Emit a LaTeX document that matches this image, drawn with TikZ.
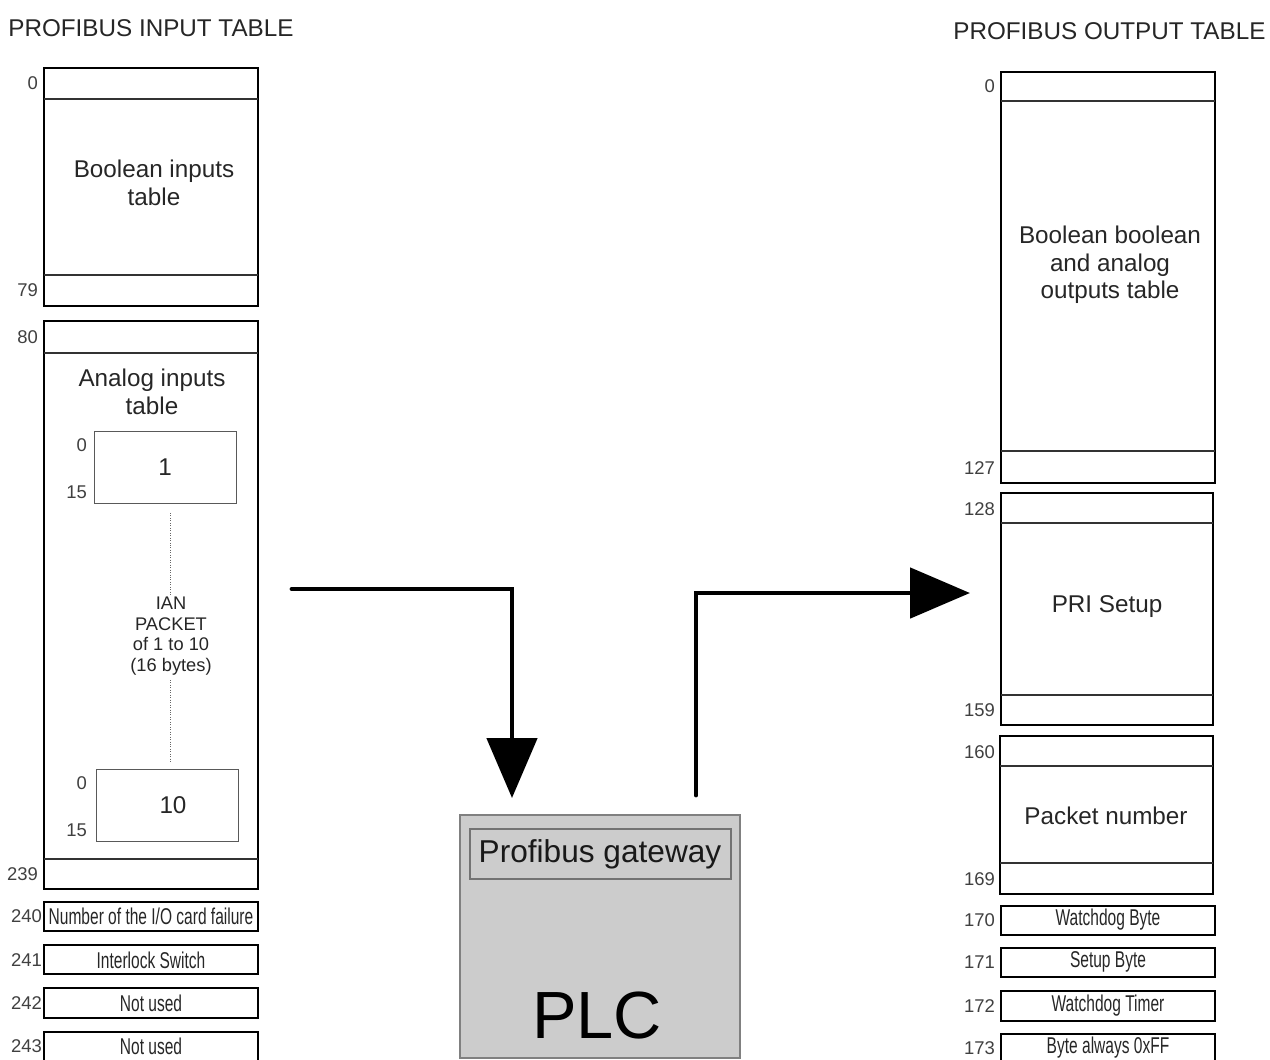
\documentclass[tikz,border=0pt]{standalone}
\usepackage{fontspec}
\setmainfont{Liberation Sans}
\newfontfamily\narrowfont[FakeStretch=0.68]{Liberation Sans}
\usetikzlibrary{arrows.meta}

\begin{document}
\begin{tikzpicture}[x=0.02cm,y=-0.02cm,
    txt/.style={font=\fontsize{13.8}{15.6}\selectfont, align=center, text=black!85},
    small/.style={font=\fontsize{10.4}{11.8}\selectfont, align=center, text=black!85},
    idx/.style={font=\fontsize{10.5}{12}\selectfont, text=black!75, anchor=east, inner sep=1pt},
    row/.style={font=\narrowfont\fontsize{13}{15}\selectfont, text=black!85, inner sep=0pt},
    frame/.style={line width=1.1pt},
    sep/.style={line width=0.6pt, black!80},
    pkt/.style={line width=0.5pt, black!65},
    flow/.style={line width=2.8pt, line cap=round, -{Triangle[width=1cm,length=1.2cm]}}]
    \useasboundingbox (0,0) rectangle (1270,1059);

    % input table
    \node[txt, anchor=west, inner sep=0pt] (intitle) at (8,28) {PROFIBUS INPUT TABLE};

    \draw[frame] (44,68) rectangle (258,306);
    \draw[sep] (44,99) -- (258,99);
    \draw[sep] (44,275) -- (258,275);
    \node[idx] (in0) at (40,83) {0};
    \node[idx] (in79) at (40,290) {79};
    \node[txt] (boolin) at (154,183) {Boolean inputs\\table};

    \draw[frame] (44,321) rectangle (258,889);
    \draw[sep] (44,353) -- (258,353);
    \draw[sep] (44,859) -- (258,859);
    \node[idx] (in80) at (40,337) {80};
    \node[idx] (in239) at (40,874) {239};
    \node[txt] (anain) at (152,392) {Analog inputs\\table};

    \draw[pkt] (94,431) rectangle (236,503);
    \node[txt] (pktone) at (165,467) {1};
    \node[idx] (pktonea) at (89,445) {0};
    \node[idx] (pktoneb) at (89,492) {15};
    \draw[pkt] (96,769) rectangle (238,841);
    \node[txt] (pktten) at (173,805) {10};
    \node[idx] (pkttena) at (89,783) {0};
    \node[idx] (pkttenb) at (89,830) {15};
    \draw[densely dotted, black!60] (170,513) -- (170,595);
    \draw[densely dotted, black!60] (170,680) -- (170,762);
    \node[small] (ian) at (171,636) {IAN\\PACKET\\of 1 to 10\\(16 bytes)};

    \draw[frame] (44,902) rectangle (258,931);
    \draw[frame] (44,945) rectangle (258,974);
    \draw[frame] (44,988) rectangle (258,1018);
    \draw[frame] (44,1032) rectangle (258,1066);
    \node[idx] (in240) at (44,916) {240};
    \node[idx] (in241) at (44,960) {241};
    \node[idx] (in242) at (44,1003) {242};
    \node[idx] (in243) at (44,1046) {243};
    \node[row] (cardfail) at (151,916) {Number of the I/O card failure};
    \node[row] (interlock) at (151,960) {Interlock Switch};
    \node[row] (unusedA) at (151,1003) {Not used};
    \node[row] (unusedB) at (151,1046) {Not used};

    % output table
    \node[txt, anchor=west, inner sep=0pt] (outtitle) at (953,31) {PROFIBUS OUTPUT TABLE};

    \draw[frame] (1001,72) rectangle (1215,483);
    \draw[sep] (1001,101) -- (1215,101);
    \draw[sep] (1001,451) -- (1215,451);
    \node[idx] (out0) at (997,86) {0};
    \node[idx] (out127) at (997,468) {127};
    \node[txt] (boolout) at (1110,265) {Boolean boolean\\and analog\\outputs table};

    \draw[frame] (1001,493) rectangle (1213,725);
    \draw[sep] (1001,523) -- (1213,523);
    \draw[sep] (1001,695) -- (1213,695);
    \node[idx] (out128) at (997,509) {128};
    \node[idx] (out159) at (997,710) {159};
    \node[txt] (prisetup) at (1107,607) {PRI Setup};

    \draw[frame] (1000,736) rectangle (1213,894);
    \draw[sep] (1000,766) -- (1213,766);
    \draw[sep] (1000,863) -- (1213,863);
    \node[idx] (out160) at (997,752) {160};
    \node[idx] (out169) at (997,879) {169};
    \node[txt] (pktnum) at (1106,816) {Packet number};

    \draw[frame] (1001,906) rectangle (1215,935);
    \draw[frame] (1001,948) rectangle (1215,977);
    \draw[frame] (1001,991) rectangle (1215,1021);
    \draw[frame] (1001,1034) rectangle (1215,1066);
    \node[idx] (out170) at (997,920) {170};
    \node[idx] (out171) at (997,962) {171};
    \node[idx] (out172) at (997,1006) {172};
    \node[idx] (out173) at (997,1048) {173};
    \node[row] (wdbyte) at (1108,920) {Watchdog Byte};
    \node[row] (setupbyte) at (1108,962) {Setup Byte};
    \node[row] (wdtimer) at (1108,1006) {Watchdog Timer};
    \node[row] (ffbyte) at (1108,1048) {Byte always 0xFF};

    % PLC
    \draw[line width=0.8pt, black!50, fill=black!20] (460,815) rectangle (740,1058);
    \draw[line width=0.6pt, black!55] (470,829) rectangle (731,879);
    \node[font=\fontsize{18}{20}\selectfont, text=black!90] (gateway) at (600,854) {Profibus gateway};
    \node[font=\fontsize{38}{40}\selectfont] (plc) at (597,1015) {PLC};

    % data flow
    \coordinate (inflow) at (292,589);
    \coordinate (plcin) at (512,798);
    \coordinate (plcout) at (696,795);
    \coordinate (outflow) at (970,593);
    \draw[flow] (inflow) -| (plcin);
    \draw[flow] (plcout) |- (outflow);
\end{tikzpicture}
\end{document}
